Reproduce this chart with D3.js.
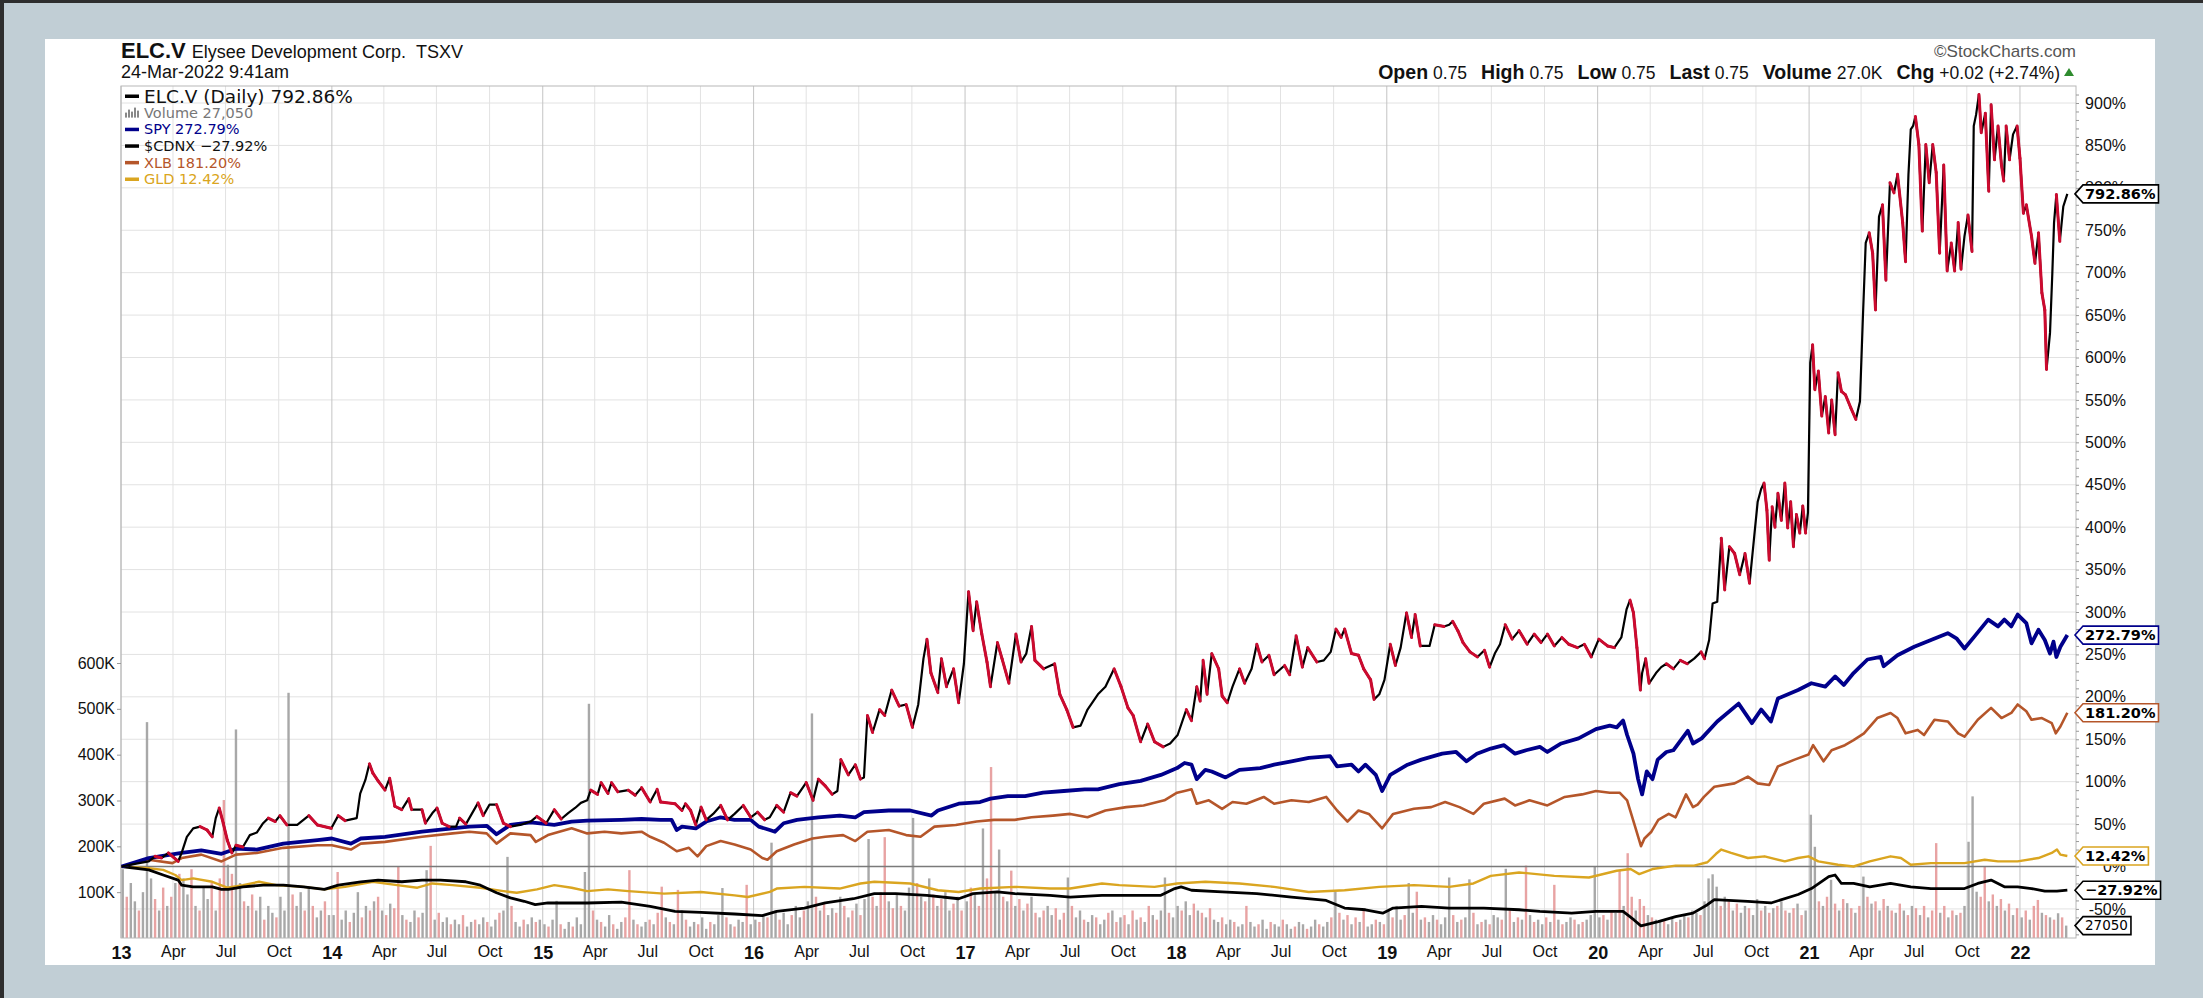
<!DOCTYPE html>
<html>
<head>
<meta charset="utf-8">
<script src="https://cdn.jsdelivr.net/npm/d3@7"></script>
<style>
  body { margin: 0; background: #c1ced5; }
  svg { display: block; font-family: "Liberation Sans", Arial, sans-serif; }
</style>
</head>
<body>
<script>
// ---- header values ----
const symbol = 'ELC.V';
const companyName = 'Elysee Development Corp.';
const exchange = 'TSXV';
const quoteTime = '24-Mar-2022 9:41am';
const quote = [['Open', '0.75'], ['High', '0.75'], ['Low', '0.75'], ['Last', '0.75'], ['Volume', '27.0K'], ['Chg', '+0.02 (+2.74%)']];
const lastVolume = 27050;

// ---- percent change series, [date, % since Jan 2013] ----
const elcData = [
  ["2013-01-02",0],["2013-01-25",3],["2013-02-18",6],["2013-03-01",12],["2013-03-12",10],["2013-03-24",16],["2013-04-10",6],["2013-04-16",16],["2013-04-25",35],["2013-05-06",45],["2013-05-18",47],["2013-05-30",43],["2013-06-08",35],["2013-06-14",57],["2013-06-20",69],["2013-06-27",51],["2013-07-04",31],["2013-07-12",16],["2013-07-19",25],["2013-07-31",23],["2013-08-12",37],["2013-08-24",40],["2013-09-04",51],["2013-09-13",57],["2013-09-25",53],["2013-10-03",60],["2013-10-15",49],["2013-11-02",49],["2013-11-22",60],["2013-12-07",49],["2013-12-31",45],
  ["2014-01-12",60],["2014-01-24",54],["2014-02-13",57],["2014-02-19",86],["2014-02-28",102],["2014-03-07",121],["2014-03-13",110],["2014-03-22",101],["2014-04-03",90],["2014-04-11",104],["2014-04-20",71],["2014-05-02",67],["2014-05-14",80],["2014-05-19",67],["2014-06-06",67],["2014-06-12",51],["2014-06-24",63],["2014-07-02",69],["2014-07-11",51],["2014-07-23",47],["2014-08-04",47],["2014-08-10",57],["2014-08-21",50],["2014-09-11",75],["2014-09-20",60],["2014-10-01",73],["2014-10-13",73],["2014-10-25",51],["2014-11-06",47],["2014-11-23",49],["2014-12-11",53],["2014-12-22",59],
  ["2015-01-07",51],["2015-01-21",67],["2015-02-02",56],["2015-02-14",63],["2015-02-26",69],["2015-03-08",75],["2015-03-19",78],["2015-03-25",90],["2015-04-06",85],["2015-04-12",99],["2015-04-24",86],["2015-04-30",99],["2015-05-11",88],["2015-05-29",90],["2015-06-10",84],["2015-06-21",93],["2015-07-06",76],["2015-07-18",91],["2015-07-24",76],["2015-08-18",74],["2015-08-30",66],["2015-09-05",74],["2015-09-14",66],["2015-09-23",49],["2015-10-02",70],["2015-10-11",55],["2015-10-23",62],["2015-11-05",72],["2015-11-17",55],["2015-11-29",62],["2015-12-14",72],["2015-12-27",58],
  ["2016-01-08",64],["2016-01-20",55],["2016-01-29",58],["2016-02-10",72],["2016-02-22",64],["2016-03-05",87],["2016-03-16",83],["2016-04-01",99],["2016-04-13",78],["2016-04-22",103],["2016-05-04",95],["2016-05-16",85],["2016-05-25",89],["2016-05-31",126],["2016-06-13",108],["2016-06-25",120],["2016-07-04",103],["2016-07-10",105],["2016-07-16",178],["2016-07-25",158],["2016-08-06",185],["2016-08-15",178],["2016-08-27",208],["2016-09-09",189],["2016-09-21",191],["2016-10-02",164],["2016-10-12",191],["2016-10-21",245],["2016-10-27",268],["2016-11-03",228],["2016-11-15",205],["2016-11-21",245],["2016-11-30",212],["2016-12-12",233],["2016-12-21",193],["2016-12-30",239],
  ["2017-01-07",324],["2017-01-15",278],["2017-01-21",312],["2017-01-30",274],["2017-02-08",241],["2017-02-14",212],["2017-02-26",264],["2017-03-06",245],["2017-03-18",216],["2017-03-30",274],["2017-04-08",241],["2017-04-17",251],["2017-04-26",283],["2017-05-02",243],["2017-05-17",233],["2017-06-05",239],["2017-06-14",203],["2017-06-26",185],["2017-07-07",164],["2017-07-20",166],["2017-08-01",185],["2017-08-19",203],["2017-09-01",212],["2017-09-16",233],["2017-09-28",212],["2017-10-10",187],["2017-10-19",178],["2017-11-01",147],["2017-11-13",168],["2017-11-25",147],["2017-12-10",141],["2017-12-22",145],
  ["2018-01-04",155],["2018-01-19",185],["2018-01-28",172],["2018-02-06",212],["2018-02-12",195],["2018-02-17",243],["2018-02-24",203],["2018-03-04",251],["2018-03-16",233],["2018-03-22",201],["2018-03-31",193],["2018-04-09",212],["2018-04-21",233],["2018-04-30",216],["2018-05-12",233],["2018-05-21",262],["2018-05-30",241],["2018-06-11",249],["2018-06-20",226],["2018-07-08",237],["2018-07-17",226],["2018-07-28",272],["2018-08-08",235],["2018-08-17",258],["2018-09-02",241],["2018-09-14",243],["2018-09-26",253],["2018-10-05",280],["2018-10-14",270],["2018-10-20",280],["2018-11-01",251],["2018-11-13",249],["2018-11-22",233],["2018-12-04",220],["2018-12-10",197],["2018-12-19",203],["2018-12-28",220],
  ["2019-01-07",262],["2019-01-16",237],["2019-01-25",258],["2019-02-04",299],["2019-02-13",270],["2019-02-19",297],["2019-02-28",260],["2019-03-16",260],["2019-03-25",285],["2019-04-10",283],["2019-04-19",285],["2019-04-25",289],["2019-05-04",278],["2019-05-13",264],["2019-05-25",253],["2019-06-07",247],["2019-06-19",255],["2019-06-28",235],["2019-07-07",251],["2019-07-16",262],["2019-07-25",285],["2019-08-06",268],["2019-08-18",278],["2019-09-01",262],["2019-09-13",274],["2019-09-25",264],["2019-10-06",274],["2019-10-18",260],["2019-10-31",270],["2019-11-12",262],["2019-11-27",258],["2019-12-09",262],["2019-12-21",247],
  ["2020-01-03",268],["2020-01-18",260],["2020-01-30",258],["2020-02-11",270],["2020-02-20",303],["2020-02-26",314],["2020-03-03",299],["2020-03-09",258],["2020-03-15",208],["2020-03-18",228],["2020-03-24",245],["2020-03-30",216],["2020-04-11",228],["2020-04-20",235],["2020-04-29",239],["2020-05-11",233],["2020-05-23",243],["2020-06-04",239],["2020-06-16",245],["2020-06-28",253],["2020-07-04",245],["2020-07-12",267],["2020-07-18",310],["2020-07-26",312],["2020-08-02",387],["2020-08-08",326],["2020-08-16",377],["2020-08-25",369],["2020-09-03",344],["2020-09-12",369],["2020-09-20",334],["2020-09-28",389],["2020-10-04",430],["2020-10-10",445],["2020-10-15",452],["2020-10-20",420],["2020-10-24",361],["2020-10-29",424],["2020-11-03",400],["2020-11-08",440],["2020-11-14",408],["2020-11-20",452],["2020-11-25",399],["2020-11-30",430],["2020-12-05",377],["2020-12-10",415],["2020-12-16",393],["2020-12-21",425],["2020-12-26",393],["2020-12-30",417],
  ["2021-01-03",594],["2021-01-07",615],["2021-01-11",562],["2021-01-17",584],["2021-01-23",531],["2021-01-29",554],["2021-02-04",511],["2021-02-09",550],["2021-02-15",509],["2021-02-20",582],["2021-02-26",560],["2021-03-05",556],["2021-03-14",541],["2021-03-23",527],["2021-03-30",548],["2021-04-04",645],["2021-04-09",735],["2021-04-15",747],["2021-04-21",723],["2021-04-26",656],["2021-05-02",766],["2021-05-08",780],["2021-05-14",691],["2021-05-21",806],["2021-05-28",794],["2021-06-03",816],["2021-06-12",759],["2021-06-17",713],["2021-06-22",816],["2021-06-26",869],["2021-06-30",873],["2021-07-04",884],["2021-07-10",851],["2021-07-16",749],["2021-07-22",851],["2021-07-28",806],["2021-08-03",851],["2021-08-09",818],["2021-08-15",723],["2021-08-22",827],["2021-08-28",702],["2021-09-04",735],["2021-09-10",702],["2021-09-16",759],["2021-09-21",704],["2021-09-27",743],["2021-10-03",768],["2021-10-10",725],["2021-10-13",873],["2021-10-17",886],["2021-10-22",910],["2021-10-26",865],["2021-11-02",888],["2021-11-08",796],["2021-11-12",898],["2021-11-18",833],["2021-11-24",873],["2021-11-30",827],["2021-12-04",808],["2021-12-08",873],["2021-12-14",833],["2021-12-20",863],["2021-12-27",873],
  ["2022-01-01",835],["2022-01-07",770],["2022-01-12",780],["2022-01-21",743],["2022-01-27",711],["2022-02-02",747],["2022-02-08",676],["2022-02-13",656],["2022-02-16",586],["2022-02-22",629],["2022-02-26",699],["2022-03-01",759],["2022-03-05",792],["2022-03-11",737],["2022-03-17",778],["2022-03-24",792.86]
];

const spyData = [
  ["2013-01-02",0],["2013-02-18",10],["2013-04-16",16],["2013-05-20",19],["2013-06-24",15],["2013-07-19",21],["2013-08-24",20],["2013-10-09",27],["2013-12-07",31],["2014-01-01",33],["2014-02-03",27],["2014-02-20",33],["2014-04-03",35],["2014-06-06",41],["2014-07-29",45],["2014-08-27",47],["2014-09-26",48],["2014-10-13",38],["2014-11-06",49],["2014-12-11",52],["2015-01-21",49],["2015-02-20",53],["2015-03-19",54],["2015-05-17",55],["2015-06-21",56],["2015-07-24",55],["2015-08-12",55],["2015-08-21",43],["2015-08-30",47],["2015-09-23",45],["2015-10-11",53],["2015-11-05",58],["2015-11-29",55],["2015-12-27",55],
  ["2016-01-10",47],["2016-01-29",43],["2016-02-07",41],["2016-02-22",51],["2016-03-16",55],["2016-04-22",58],["2016-05-29",60],["2016-06-25",58],["2016-07-10",64],["2016-08-22",66],["2016-09-28",66],["2016-11-04",60],["2016-11-15",66],["2016-12-21",74],["2017-01-27",76],["2017-02-14",80],["2017-03-16",83],["2017-04-15",83],["2017-05-16",87],["2017-06-21",89],["2017-07-27",91],["2017-08-19",91],["2017-09-25",97],["2017-11-01",101],["2017-12-06",108],
  ["2018-01-03",116],["2018-01-16",122],["2018-01-28",120],["2018-02-06",103],["2018-02-21",114],["2018-03-04",112],["2018-03-28",105],["2018-04-21",114],["2018-05-27",116],["2018-06-20",120],["2018-07-20",124],["2018-08-19",128],["2018-09-25",130],["2018-10-07",118],["2018-11-01",120],["2018-11-13",112],["2018-11-25",120],["2018-12-13",108],["2018-12-24",89],
  ["2019-01-07",108],["2019-02-06",120],["2019-03-02",126],["2019-04-07",133],["2019-05-01",135],["2019-05-19",124],["2019-06-06",133],["2019-06-30",139],["2019-07-23",143],["2019-08-11",133],["2019-08-30",137],["2019-09-23",141],["2019-10-06",135],["2019-10-30",145],["2019-11-29",151],["2019-12-29",162],
  ["2020-01-22",166],["2020-02-03",164],["2020-02-14",172],["2020-02-21",155],["2020-03-03",133],["2020-03-11",103],["2020-03-18",85],["2020-03-26",112],["2020-04-05",103],["2020-04-14",126],["2020-04-29",135],["2020-05-11",137],["2020-06-05",160],["2020-06-14",145],["2020-06-29",151],["2020-07-26",171],["2020-09-01",192],["2020-09-24",169],["2020-10-10",185],["2020-10-27",171],["2020-11-08",198],["2020-12-13",208],
  ["2021-01-05",216],["2021-01-29",212],["2021-02-15",224],["2021-03-02",214],["2021-03-19",228],["2021-04-12",244],["2021-05-05",247],["2021-05-10",236],["2021-06-03",249],["2021-07-02",259],["2021-07-31",267],["2021-08-29",275],["2021-09-13",269],["2021-09-27",257],["2021-10-14",271],["2021-11-07",291],["2021-11-24",283],["2021-12-05",291],["2021-12-17",283],["2021-12-28",297],
  ["2022-01-12",287],["2022-01-21",263],["2022-02-02",279],["2022-02-13",267],["2022-02-22",251],["2022-02-28",265],["2022-03-05",247],["2022-03-12",259],["2022-03-24",272.79]
];

const xlbData = [
  ["2013-01-02",0],["2013-02-18",8],["2013-03-31",4],["2013-04-16",10],["2013-05-20",14],["2013-06-24",6],["2013-07-19",14],["2013-08-24",16],["2013-10-09",22],["2013-12-07",25],["2014-01-01",25],["2014-02-03",20],["2014-02-20",27],["2014-04-03",29],["2014-06-06",35],["2014-07-29",39],["2014-08-27",41],["2014-09-26",39],["2014-10-13",27],["2014-11-06",39],["2014-12-11",37],["2014-12-20",29],
  ["2015-01-10",37],["2015-02-20",45],["2015-03-19",39],["2015-04-18",41],["2015-05-17",39],["2015-06-21",41],["2015-07-06",35],["2015-07-30",28],["2015-08-21",18],["2015-09-11",22],["2015-09-26",12],["2015-10-11",24],["2015-11-05",30],["2015-11-29",26],["2015-12-27",20],
  ["2016-01-16",10],["2016-01-25",8],["2016-02-10",18],["2016-03-11",26],["2016-04-12",33],["2016-05-04",35],["2016-06-04",37],["2016-06-25",30],["2016-07-16",41],["2016-08-22",43],["2016-09-21",37],["2016-10-16",35],["2016-11-09",47],["2016-12-16",49],["2017-01-21",53],["2017-02-20",55],["2017-03-28",55],["2017-04-26",58],["2017-06-02",60],["2017-07-02",62],["2017-08-01",58],["2017-09-01",66],["2017-10-07",70],["2017-11-06",72],["2017-12-12",78],
  ["2018-01-03",87],["2018-01-16",89],["2018-01-28",91],["2018-02-06",74],["2018-02-27",78],["2018-03-22",68],["2018-04-09",76],["2018-05-03",74],["2018-06-02",82],["2018-06-20",74],["2018-07-20",78],["2018-08-19",76],["2018-09-18",82],["2018-10-07",66],["2018-10-25",53],["2018-11-13",66],["2018-12-01",62],["2018-12-24",45],
  ["2019-01-12",62],["2019-02-17",68],["2019-03-19",70],["2019-04-12",76],["2019-05-07",70],["2019-05-31",62],["2019-06-18",74],["2019-07-24",80],["2019-08-11",72],["2019-09-05",78],["2019-10-06",72],["2019-11-05",82],["2019-12-05",85],["2019-12-29",89],
  ["2020-01-22",87],["2020-02-08",87],["2020-02-21",78],["2020-03-04",51],["2020-03-16",24],["2020-03-22",33],["2020-04-03",41],["2020-04-15",55],["2020-05-03",62],["2020-05-15",58],["2020-06-02",85],["2020-06-14",70],["2020-06-22",73],["2020-07-03",82],["2020-07-21",94],["2020-08-25",98],["2020-09-17",106],["2020-10-04",98],["2020-10-24",96],["2020-11-08",118],["2020-12-07",126],["2020-12-31",132],
  ["2021-01-08",143],["2021-01-26",124],["2021-02-09",137],["2021-03-04",143],["2021-03-19",149],["2021-04-06",157],["2021-04-29",175],["2021-05-22",181],["2021-06-03",175],["2021-06-17",157],["2021-07-08",161],["2021-07-19",155],["2021-08-06",173],["2021-08-29",171],["2021-09-16",157],["2021-09-27",153],["2021-10-20",173],["2021-11-12",187],["2021-11-30",175],["2021-12-17",181],["2021-12-28",191],
  ["2022-01-12",183],["2022-01-21",173],["2022-02-08",175],["2022-02-25",169],["2022-03-04",157],["2022-03-12",165],["2022-03-24",181.2]
];

const gldData = [
  ["2013-01-02",0],["2013-02-18",-2],["2013-03-15",-4],["2013-04-05",-10],["2013-04-16",-16],["2013-05-06",-14],["2013-06-08",-18],["2013-07-04",-25],["2013-07-31",-22],["2013-08-28",-18],["2013-09-27",-22],["2013-11-13",-24],["2013-12-19",-27],["2014-01-24",-24],["2014-03-13",-18],["2014-04-24",-22],["2014-05-29",-25],["2014-06-24",-20],["2014-07-29",-22],["2014-09-15",-25],["2014-10-25",-29],["2014-11-17",-31],["2014-12-22",-27],
  ["2015-01-21",-22],["2015-02-20",-25],["2015-03-19",-29],["2015-04-24",-27],["2015-05-29",-29],["2015-07-30",-32],["2015-10-02",-30],["2015-11-29",-34],["2015-12-22",-36],["2016-01-29",-30],["2016-02-10",-26],["2016-03-29",-24],["2016-05-29",-26],["2016-07-04",-20],["2016-07-28",-18],["2016-09-28",-20],["2016-11-15",-28],["2016-12-21",-30],
  ["2017-01-27",-26],["2017-03-28",-24],["2017-05-28",-26],["2017-07-02",-26],["2017-08-26",-20],["2017-09-25",-22],["2017-11-25",-24],["2018-01-03",-20],["2018-02-21",-18],["2018-04-21",-20],["2018-06-20",-24],["2018-08-19",-30],["2018-10-20",-28],["2018-12-19",-24],
  ["2019-02-17",-22],["2019-04-19",-24],["2019-05-31",-20],["2019-06-30",-11],["2019-08-18",-7],["2019-10-18",-11],["2019-12-17",-13],["2020-02-03",-5],["2020-02-27",-3],["2020-03-13",-9],["2020-04-05",-3],["2020-05-15",1],["2020-06-16",1],["2020-07-09",5],["2020-07-24",15],["2020-08-02",20],["2020-08-19",16],["2020-09-17",10],["2020-10-16",12],["2020-11-20",6],["2020-12-13",10],["2020-12-31",12],
  ["2021-01-17",6],["2021-02-20",2],["2021-03-19",0],["2021-04-16",6],["2021-05-22",12],["2021-06-09",10],["2021-06-26",2],["2021-07-31",4],["2021-08-23",4],["2021-09-27",4],["2021-11-01",8],["2021-11-24",6],["2021-12-28",6],["2022-02-02",10],["2022-02-25",16],["2022-03-06",20],["2022-03-12",14],["2022-03-24",12.42]
];

const cdnxData = [
  ["2013-01-02",0],["2013-02-18",-4],["2013-03-15",-10],["2013-04-10",-16],["2013-04-16",-22],["2013-05-06",-24],["2013-06-08",-24],["2013-06-24",-27],["2013-07-06",-27],["2013-07-31",-24],["2013-09-04",-22],["2013-10-09",-22],["2013-11-13",-24],["2013-12-19",-27],["2014-01-12",-22],["2014-02-20",-18],["2014-03-22",-16],["2014-05-02",-18],["2014-06-06",-16],["2014-07-08",-16],["2014-08-21",-18],["2014-09-15",-22],["2014-10-13",-31],["2014-11-06",-37],["2014-11-30",-41],["2014-12-19",-45],
  ["2015-01-10",-43],["2015-03-19",-43],["2015-05-17",-42],["2015-07-06",-47],["2015-08-18",-53],["2015-10-02",-54],["2015-11-29",-56],["2016-01-16",-58],["2016-02-10",-53],["2016-03-29",-49],["2016-05-04",-43],["2016-06-22",-38],["2016-07-28",-32],["2016-09-03",-32],["2016-10-27",-34],["2016-12-21",-38],
  ["2017-01-15",-32],["2017-02-26",-30],["2017-03-28",-32],["2017-05-28",-34],["2017-07-02",-36],["2017-08-26",-34],["2017-10-25",-34],["2017-12-06",-34],["2017-12-30",-26],["2018-01-10",-24],["2018-01-28",-28],["2018-03-22",-30],["2018-05-21",-32],["2018-07-20",-36],["2018-09-18",-40],["2018-10-20",-49],["2018-11-25",-51],["2018-12-25",-55],
  ["2019-01-12",-49],["2019-03-02",-47],["2019-04-19",-49],["2019-06-18",-49],["2019-08-18",-51],["2019-09-23",-53],["2019-11-17",-55],["2019-12-29",-53],["2020-02-14",-53],["2020-03-04",-63],["2020-03-16",-70],["2020-04-15",-65],["2020-05-15",-59],["2020-06-14",-55],["2020-07-09",-45],["2020-07-21",-39],["2020-09-17",-41],["2020-10-27",-43],["2020-12-13",-33],
  ["2021-01-05",-26],["2021-02-04",-12],["2021-02-15",-10],["2021-02-26",-20],["2021-03-19",-20],["2021-04-16",-24],["2021-05-22",-20],["2021-06-26",-24],["2021-07-31",-26],["2021-08-29",-26],["2021-09-27",-26],["2021-10-20",-20],["2021-11-12",-16],["2021-12-05",-24],["2021-12-28",-24],["2022-01-21",-26],["2022-02-13",-29],["2022-03-06",-29],["2022-03-24",-27.92]
];

// ---- ELC.V weekly volume in thousands; negative = down week (red bar) ----
const volume2013 = [150,-90,120,80,-60,100,471,130,-85,60,-110,70,-90,120,-140,130,95,-150,70,-60,110,85,-120,60,-130,-301,160,-140,455,120,-80,70,-95,60,90,-40,70,55,-45,90,60,535,-95,70,100,-60,110,-70,45,60,-80,50];
const volume2014 = [50,-144,40,60,-35,55,100,-45,70,-60,80,-90,60,-50,75,-65,-155,50,-40,35,60,-45,55,148,-201,40,-55,35,45,-30,40,30,-50,25,35,-40,30,45,-35,25,40,-55,60,177,-70,35,25,-40,30,45,-35,40];
const volume2015 = [30,-25,40,81,-30,20,35,-25,45,30,144,511,-60,40,-35,25,50,-30,20,35,-45,-148,40,-30,25,35,-40,30,-55,-112,45,-35,30,-105,60,-40,25,35,-30,45,20,-35,30,50,109,-45,30,-25,40,35,-116,30];
const volume2016 = [40,-35,50,-45,208,60,-40,55,30,-50,70,45,-60,80,490,-90,60,-75,50,65,-55,90,-70,45,-60,75,-50,85,216,-90,70,-100,-220,80,-65,95,-70,60,110,262,-120,90,-80,130,-95,70,-85,100,60,-75,90,-60];
const volume2017 = [80,-110,95,-70,239,-130,-373,100,193,-90,80,-147,70,-85,60,-75,90,-55,45,-60,70,50,-65,40,-55,132,-70,45,60,-40,35,50,-45,30,40,-55,60,-35,45,-50,30,-60,40,-45,35,-70,50,-40,60,132,-55,45];
const volume2018 = [70,-60,80,50,-75,60,-55,45,-65,40,35,-45,30,40,-35,25,30,-70,35,25,-30,40,20,-35,30,25,-40,30,20,-25,35,30,-20,25,40,-30,25,35,-45,101,-55,40,-50,30,-45,35,-63,25,30,-40,35,-30];
const volume2019 = [60,-45,70,40,-50,120,55,-101,40,-45,35,50,-40,30,45,132,-50,35,-40,45,128,-55,30,-35,40,-30,50,45,-40,151,-60,35,-45,40,-158,50,-35,40,30,-45,35,-116,40,-30,35,45,-40,30,-35,40,50,155];
const volume2020 = [45,-50,40,-60,55,-147,70,-185,-90,60,-85,-70,50,-45,40,35,-40,30,45,-35,40,50,-45,60,55,-50,80,130,139,112,-70,90,-80,60,-75,55,70,-65,50,85,-60,70,-55,65,-70,80,-60,55,-65,75,-50,60];
const volume2021 = [269,199,-80,70,-90,127,-75,60,-85,76,-65,55,-70,134,-90,75,-80,60,-85,70,-60,55,-75,60,-50,70,-65,50,-70,45,-60,-207,55,-70,45,-60,50,-55,70,210,309,101,-90,-156,80,-95,70,-85,60,-75,50,-65];
const volume2022 = [45,-60,40,-70,-83,55,-50,45,-40,54,-45,27.05];
const volumeYears = [[2013, volume2013], [2014, volume2014], [2015, volume2015], [2016, volume2016], [2017, volume2017], [2018, volume2018], [2019, volume2019], [2020, volume2020], [2021, volume2021], [2022, volume2022]];

// axis ticks
const pctTicks = d3.range(-50, 901, 50);
const volTicks = [100, 200, 300, 400, 500, 600];
const monthNames = ['', '', '', 'Apr', '', '', 'Jul', '', '', 'Oct', '', '', ''];

// ---- layout ----
const [width, height] = [2203, 998];
const plot = {left: 121, right: 2076, top: 86, bottom: 938};
const colors = {elc: '#000', elcDown: '#cc0a2f', spy: '#00008b', cdnx: '#000', xlb: '#b5562a', gld: '#daa520'};

const parse = d3.timeParse('%Y-%m-%d');
const prep = arr => d3.sort(arr.map(([d, v]) => ({date: parse(d), value: v})), d => d.date);
const elc = prep(elcData), spy = prep(spyData), xlb = prep(xlbData), gld = prep(gldData), cdnx = prep(cdnxData);

const x = d3.scaleTime()
  .domain([new Date(2013, 0, 1), new Date(2022, 3, 8)])
  .range([plot.left, plot.right]);
const y = d3.scaleLinear().domain([0, 900]).range([866.5, 103]);
const v = d3.scaleLinear().domain([0, 600]).range([plot.bottom, 663]);

const svg = d3.select('body').append('svg')
  .attr('width', width)
  .attr('height', height);

svg.append('rect').attr('width', width).attr('height', height).attr('fill', '#c1ced5');
svg.append('rect').attr('width', width).attr('height', 3).attr('fill', '#2e2e2e');
svg.append('rect').attr('width', 4).attr('height', height).attr('fill', '#2e2e2e');
svg.append('rect').attr('x', 45).attr('y', 39).attr('width', 2110).attr('height', 926).attr('fill', '#fff');

svg.append('clipPath').attr('id', 'clip')
  .append('rect')
  .attr('x', plot.left).attr('y', plot.top)
  .attr('width', plot.right - plot.left).attr('height', plot.bottom - plot.top);

// grid
const quarters = d3.timeMonth.every(3).range(new Date(2013, 0, 1), new Date(2022, 1, 1));
const grid = svg.append('g').attr('class', 'grid');
grid.selectAll('line.h')
  .data(pctTicks)
  .enter()
  .append('line')
  .attr('x1', plot.left).attr('x2', plot.right)
  .attr('y1', d => y(d)).attr('y2', d => y(d))
  .attr('stroke', '#e2e2e2');
grid.selectAll('line.v')
  .data(quarters)
  .enter()
  .append('line')
  .attr('x1', d => x(d)).attr('x2', d => x(d))
  .attr('y1', plot.top).attr('y2', plot.bottom)
  .attr('stroke', d => d.getMonth() === 0 ? '#c4c4c4' : '#e2e2e2');

// volume bars
const volume = [];
volumeYears.forEach(([yr, arr]) => {
  arr.forEach((val, i) => {
    volume.push({date: d3.timeDay.offset(new Date(yr, 0, 1), 7 * i + 3), value: Math.abs(val), down: val < 0});
  });
});
const bw = 2.4;
svg.append('g')
  .attr('clip-path', 'url(#clip)')
  .selectAll('rect')
  .data(volume)
  .enter()
  .append('rect')
  .attr('x', d => x(d.date) - bw / 2)
  .attr('y', d => v(d.value))
  .attr('width', bw)
  .attr('height', d => plot.bottom - v(d.value))
  .attr('fill', d => d.down ? '#e28c8c' : '#a3a3a3')
  .attr('opacity', d => d.down ? 0.8 : 0.95);

// zero line
svg.append('line')
  .attr('x1', plot.left).attr('x2', plot.right)
  .attr('y1', y(0)).attr('y2', y(0))
  .attr('stroke', '#7a7a7a')
  .attr('stroke-width', 1.6);

// frame
svg.append('rect')
  .attr('x', plot.left).attr('y', plot.top)
  .attr('width', plot.right - plot.left).attr('height', plot.bottom - plot.top)
  .attr('fill', 'none')
  .attr('stroke', '#b8b8b8');

// lines
const line = d3.line().x(d => x(d.date)).y(d => y(d.value));
const lines = svg.append('g').attr('clip-path', 'url(#clip)').attr('fill', 'none')
  .attr('stroke-linejoin', 'round');
lines.append('path').attr('d', line(gld)).attr('stroke', colors.gld).attr('stroke-width', 2.4);
lines.append('path').attr('d', line(cdnx)).attr('stroke', colors.cdnx).attr('stroke-width', 2.8);
lines.append('path').attr('d', line(xlb)).attr('stroke', colors.xlb).attr('stroke-width', 2.6);
lines.append('path').attr('d', line(spy)).attr('stroke', colors.spy).attr('stroke-width', 3.8);

lines.append('path').attr('d', line(elc)).attr('stroke', colors.elc).attr('stroke-width', 2.2);
lines.selectAll('line.down')
  .data(d3.pairs(elc).filter(([a, b]) => b.value < a.value))
  .enter()
  .append('line')
  .attr('x1', d => x(d[0].date)).attr('y1', d => y(d[0].value))
  .attr('x2', d => x(d[1].date)).attr('y2', d => y(d[1].value))
  .attr('stroke', colors.elcDown)
  .attr('stroke-width', 3)
  .attr('stroke-linecap', 'round');

// bottom axis
const xAxis = svg.append('g')
  .attr('transform', `translate(0,${plot.bottom})`)
  .call(d3.axisBottom(x)
    .tickValues(quarters)
    .tickSize(0)
    .tickPadding(8)
    .tickFormat(d => d.getMonth() === 0 ? d3.timeFormat('%y')(d) : monthNames[d.getMonth()]));
xAxis.select('.domain').remove();
xAxis.selectAll('text')
  .attr('fill', '#111')
  .style('font-family', '"Liberation Sans", Arial, sans-serif')
  .style('font-size', d => d.getMonth() === 0 ? '18px' : '16px')
  .style('font-weight', d => d.getMonth() === 0 ? 'bold' : 'normal');

// right axis
const yAxis = svg.append('g')
  .attr('transform', `translate(${plot.right},0)`)
  .call(d3.axisRight(y).tickValues(pctTicks).tickSize(0).tickPadding(50).tickFormat(d => d + '%'));
yAxis.select('.domain').remove();
yAxis.selectAll('text')
  .attr('text-anchor', 'end')
  .attr('fill', '#111')
  .style('font-family', '"Liberation Sans", Arial, sans-serif')
  .style('font-size', '16px');
const yMinor = svg.append('g')
  .attr('transform', `translate(${plot.right},0)`)
  .call(d3.axisRight(y).tickValues(d3.range(-80, 911, 10)).tickSize(3).tickFormat(''));
yMinor.select('.domain').remove();
yMinor.selectAll('line').attr('stroke', '#999');

// left volume axis
const vAxis = svg.append('g')
  .attr('transform', `translate(${plot.left},0)`)
  .call(d3.axisLeft(v).tickValues(volTicks).tickSize(4).tickPadding(2).tickFormat(d => d + 'K'));
vAxis.select('.domain').remove();
vAxis.selectAll('line').attr('stroke', '#999');
vAxis.selectAll('text')
  .attr('fill', '#111')
  .style('font-family', '"Liberation Sans", Arial, sans-serif')
  .style('font-size', '16px');

// last value boxes
const fmtPct = d => d3.format('.2f')(d) + '%';
const lastOf = s => s[s.length - 1].value;
const tags = [
  {text: fmtPct(lastOf(elc)), yv: y(lastOf(elc)), color: '#000', bold: true},
  {text: fmtPct(lastOf(spy)), yv: y(lastOf(spy)), color: colors.spy, bold: true},
  {text: fmtPct(lastOf(xlb)), yv: y(lastOf(xlb)), color: colors.xlb, bold: true},
  {text: fmtPct(lastOf(gld)), yv: y(lastOf(gld)), color: colors.gld, bold: true},
  {text: fmtPct(lastOf(cdnx)), yv: y(lastOf(cdnx)), color: '#000', bold: true},
  {text: String(lastVolume), yv: v(lastVolume / 1000), color: '#000', bold: false}
];
const tagG = svg.append('g');
tags.forEach(t => {
  const g = tagG.append('g');
  const path = g.append('path');
  const txt = g.append('text')
    .attr('x', plot.right + 9)
    .attr('y', t.yv)
    .attr('dy', '0.36em')
    .attr('fill', '#000')
    .style('font-family', '"DejaVu Sans", Verdana, sans-serif')
    .style('font-size', t.bold ? '14.5px' : '13.5px')
    .style('font-weight', t.bold ? 'bold' : 'normal')
    .text(t.text);
  const w = txt.node().getComputedTextLength();
  const x0 = plot.right - 1, x1 = plot.right + 7, x2 = plot.right + 12 + w, h = 9;
  path.attr('d', `M${x0},${t.yv} L${x1},${t.yv - h} L${x2},${t.yv - h} L${x2},${t.yv + h} L${x1},${t.yv + h} Z`)
    .attr('fill', '#fff')
    .attr('stroke', t.color)
    .attr('stroke-width', 1.6);
});

// header
const head = svg.append('g').attr('fill', '#111');
const title = head.append('text').attr('x', plot.left).attr('y', 58);
title.append('tspan').style('font-weight', 'bold').style('font-size', '22px').text(symbol);
title.append('tspan').attr('dx', 6).style('font-size', '18px').text(companyName);
title.append('tspan').attr('dx', 10).style('font-size', '18px').text(exchange);
head.append('text').attr('x', plot.left).attr('y', 78).style('font-size', '18px').text(quoteTime);
head.append('text').attr('x', plot.right).attr('y', 57).attr('text-anchor', 'end')
  .attr('fill', '#555').style('font-size', '17px').text('\u00a9StockCharts.com');
const q = head.append('text').attr('x', plot.right - 16).attr('y', 79).attr('text-anchor', 'end');
quote.forEach(([k, val], i) => {
  q.append('tspan').attr('dx', i ? 14 : 0).style('font-weight', 'bold').style('font-size', '19.5px').text(k);
  q.append('tspan').attr('dx', 5).style('font-size', '17.5px').text(val);
});
head.append('path')
  .attr('d', `M${plot.right - 12},${76} L${plot.right - 2},${76} L${plot.right - 7},${68} Z`)
  .attr('fill', '#2e8b2e');

// legend
const legend = [
  {label: `${symbol} (Daily) ${fmtPct(lastOf(elc))}`, color: '#000', text: '#111', size: 18.5},
  {label: `Volume ${d3.format(',')(lastVolume)}`, color: '#888', text: '#777', bars: true, size: 14.5},
  {label: `SPY ${fmtPct(lastOf(spy))}`, color: colors.spy, text: colors.spy, size: 14.5},
  {label: `$CDNX ${fmtPct(lastOf(cdnx))}`, color: '#000', text: '#111', size: 14.5},
  {label: `XLB ${fmtPct(lastOf(xlb))}`, color: colors.xlb, text: colors.xlb, size: 14.5},
  {label: `GLD ${fmtPct(lastOf(gld))}`, color: colors.gld, text: colors.gld, size: 14.5}
];
const lg = svg.append('g').attr('transform', `translate(${plot.left + 4},96)`);
legend.forEach((d, i) => {
  const g = lg.append('g').attr('transform', `translate(0,${i * 16.6})`);
  if (d.bars) {
    [[0, 5], [3, 8], [6, 6], [9, 10], [12, 7]].forEach(([bx, bh]) => {
      g.append('rect').attr('x', bx).attr('y', 5 - bh).attr('width', 2).attr('height', bh).attr('fill', d.color);
    });
  } else {
    g.append('rect').attr('x', 0).attr('y', -1.5).attr('width', 14).attr('height', 3.5).attr('fill', d.color);
  }
  g.append('text')
    .attr('x', 19)
    .attr('dy', '0.36em')
    .attr('fill', d.text)
    .style('font-family', '"DejaVu Sans", Verdana, sans-serif')
    .style('font-size', d.size + 'px')
    .text(d.label);
});
</script>
</body>
</html>
